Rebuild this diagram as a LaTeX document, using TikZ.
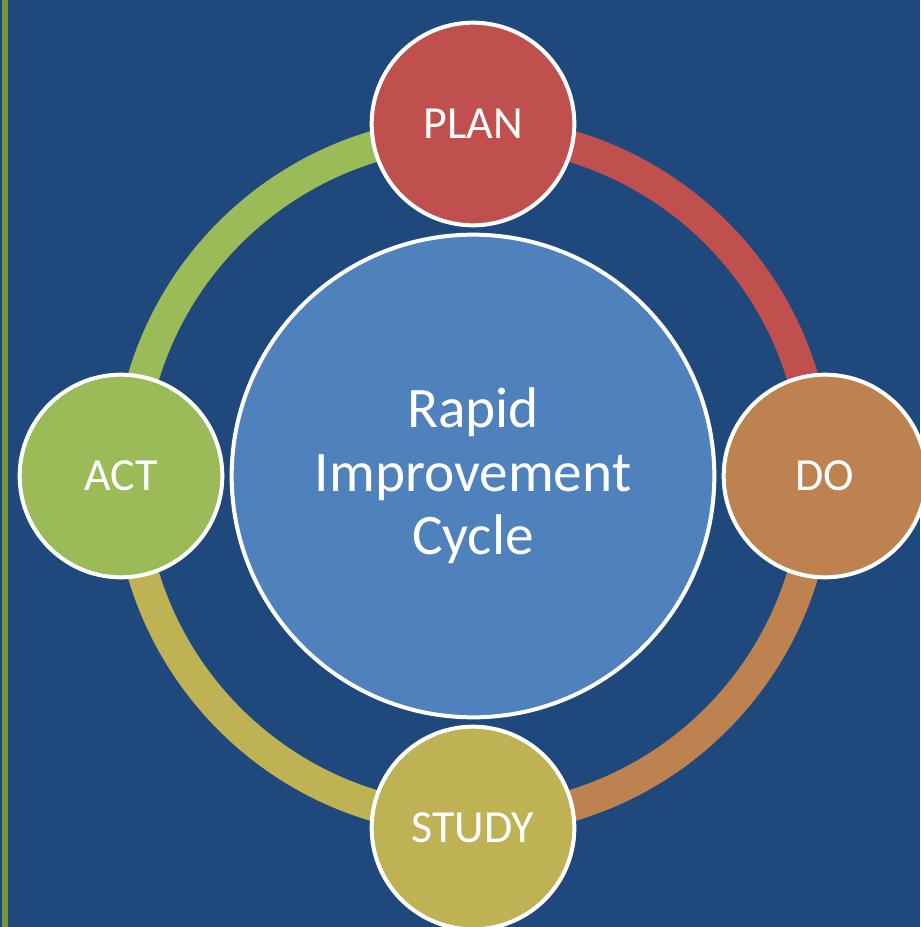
\documentclass[tikz,border=0pt]{standalone}
\usepackage{fontspec}
\setmainfont{Carlito}
\definecolor{bgblue}{HTML}{1F497D}
\definecolor{stripgreen}{HTML}{77933C}
\definecolor{hubblue}{HTML}{4F81BD}
\definecolor{planred}{HTML}{C0504D}
\definecolor{dobrown}{HTML}{BE8251}
\definecolor{studyolive}{HTML}{BEB255}
\definecolor{actgreen}{HTML}{9BBB59}
\begin{document}
\begin{tikzpicture}[x=0.75pt,y=-0.75pt,
  stage/.style={circle, draw=white, line width=3pt, minimum size=152pt,
    inner sep=0pt, text=white, font=\fontsize{34.5}{40}\selectfont},
  hub/.style={circle, draw=white, line width=3pt, minimum size=362pt,
    inner sep=0pt, fill=hubblue, text=white, align=center,
    font=\fontsize{43}{47.5}\selectfont},
  ringarc/.style={line width=23.5pt}]
  % canvas and left accent strip
  \fill[bgblue] (0,0) rectangle (920,927);
  \fill[stripgreen] (2,0) rectangle (8,927);
  \useasboundingbox (0,0) rectangle (920,927);

  % cycle positions
  \coordinate (c) at (473,476);
  \coordinate (pp) at (473,124);
  \coordinate (dp) at (825,476);
  \coordinate (sp) at (473,828);
  \coordinate (ap) at (121,476);

  % ring segments between the stages
  \draw[ringarc, planred]    (c) ++(-90:344) arc[start angle=-90, end angle=0,   radius=344];
  \draw[ringarc, dobrown]    (c) ++(0:344)   arc[start angle=0,   end angle=90,  radius=344];
  \draw[ringarc, studyolive] (c) ++(90:344)  arc[start angle=90,  end angle=180, radius=344];
  \draw[ringarc, actgreen]   (c) ++(180:344) arc[start angle=180, end angle=270, radius=344];

  % hub and stages
  \node[hub] (hubnode) at (c) {Rapid\\Improvement\\Cycle};
  \node[stage, fill=planred]    (plan)  at (pp) {PLAN};
  \node[stage, fill=dobrown]    (do)    at (dp) {DO};
  \node[stage, fill=studyolive] (study) at (sp) {STUDY};
  \node[stage, fill=actgreen]   (act)   at (ap) {ACT};
\end{tikzpicture}
\end{document}
